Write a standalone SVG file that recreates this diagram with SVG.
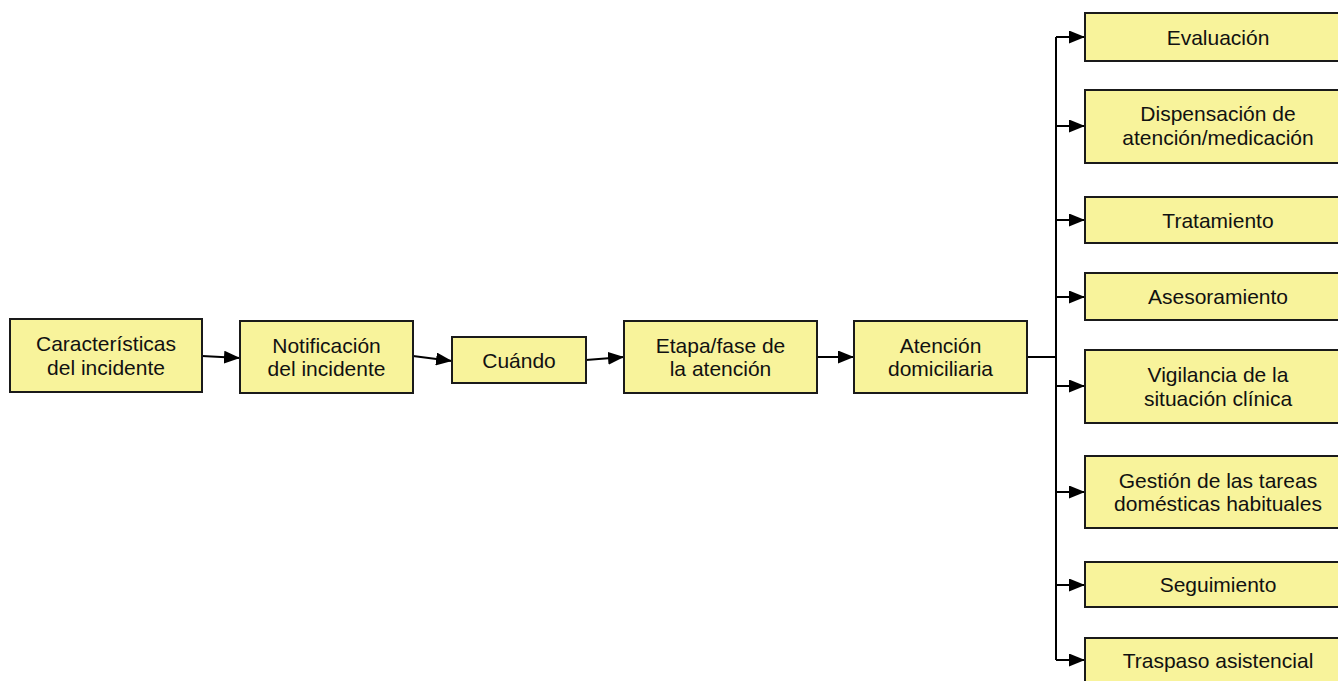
<svg xmlns="http://www.w3.org/2000/svg" width="1338" height="681" viewBox="0 0 1338 681">
<style>
.box{fill:#F8F39B;stroke:#1a1a1a;stroke-width:2}
.t{font-family:"Liberation Sans",Arial,sans-serif;font-size:21px;fill:#111;text-anchor:middle}
.c{fill:none;stroke:#000;stroke-width:2}
.a{marker-end:url(#arr)}
</style>
<defs>
<marker id="arr" markerUnits="userSpaceOnUse" markerWidth="16" markerHeight="13" refX="16" refY="6.5" orient="auto">
<path d="M0,0 L16,6.5 L0,13 z" fill="#000"/>
</marker>
</defs>
<rect width="1338" height="681" fill="#fff"/>
<g id="connectors">
<path class="c a" d="M202,356 L240,358"/>
<path class="c a" d="M413,356 L452,361"/>
<path class="c a" d="M586,360 L624,357"/>
<path class="c a" d="M817,357 L854,357"/>
<path class="c" d="M1027,357 L1056,357"/>
<path class="c" d="M1056,37 L1056,660"/>
<path class="c a" d="M1056,37 L1085,37"/>
<path class="c a" d="M1056,126 L1085,126"/>
<path class="c a" d="M1056,220 L1085,220"/>
<path class="c a" d="M1056,297 L1085,297"/>
<path class="c a" d="M1056,386 L1085,386"/>
<path class="c a" d="M1056,492 L1085,492"/>
<path class="c a" d="M1056,585 L1085,585"/>
<path class="c a" d="M1056,660 L1085,660"/>
</g>
<g id="n1"><rect class="box" x="10" y="319" width="192" height="73"/><text class="t" x="106" y="351">Características</text><text class="t" x="106" y="374.5">del incidente</text></g>
<g id="n2"><rect class="box" x="240" y="321" width="173" height="72"/><text class="t" x="326.5" y="352.5">Notificación</text><text class="t" x="326.5" y="376">del incidente</text></g>
<g id="n3"><rect class="box" x="452" y="337" width="134" height="46"/><text class="t" x="519" y="367.5">Cuándo</text></g>
<g id="n4"><rect class="box" x="624" y="321" width="193" height="72"/><text class="t" x="720.5" y="352.5">Etapa/fase de</text><text class="t" x="720.5" y="376">la atención</text></g>
<g id="n5"><rect class="box" x="854" y="321" width="173" height="72"/><text class="t" x="940.5" y="352.5">Atención</text><text class="t" x="940.5" y="376">domiciliaria</text></g>
<g id="r1"><rect class="box" x="1085" y="13" width="266" height="48"/><text class="t" x="1218" y="44.5">Evaluación</text></g>
<g id="r2"><rect class="box" x="1085" y="90" width="266" height="73"/><text class="t" x="1218" y="121">Dispensación de</text><text class="t" x="1218" y="145">atención/medicación</text></g>
<g id="r3"><rect class="box" x="1085" y="197" width="266" height="46"/><text class="t" x="1218" y="227.5">Tratamiento</text></g>
<g id="r4"><rect class="box" x="1085" y="273" width="266" height="47"/><text class="t" x="1218" y="304">Asesoramiento</text></g>
<g id="r5"><rect class="box" x="1085" y="350" width="266" height="73"/><text class="t" x="1218" y="381.5">Vigilancia de la</text><text class="t" x="1218" y="405.5">situación clínica</text></g>
<g id="r6"><rect class="box" x="1085" y="456" width="266" height="72"/><text class="t" x="1218" y="487.5">Gestión de las tareas</text><text class="t" x="1218" y="511">domésticas habituales</text></g>
<g id="r7"><rect class="box" x="1085" y="562" width="266" height="45"/><text class="t" x="1218" y="592">Seguimiento</text></g>
<g id="r8"><rect class="box" x="1085" y="638" width="266" height="46"/><text class="t" x="1218" y="667.5">Traspaso asistencial</text></g>
</svg>
